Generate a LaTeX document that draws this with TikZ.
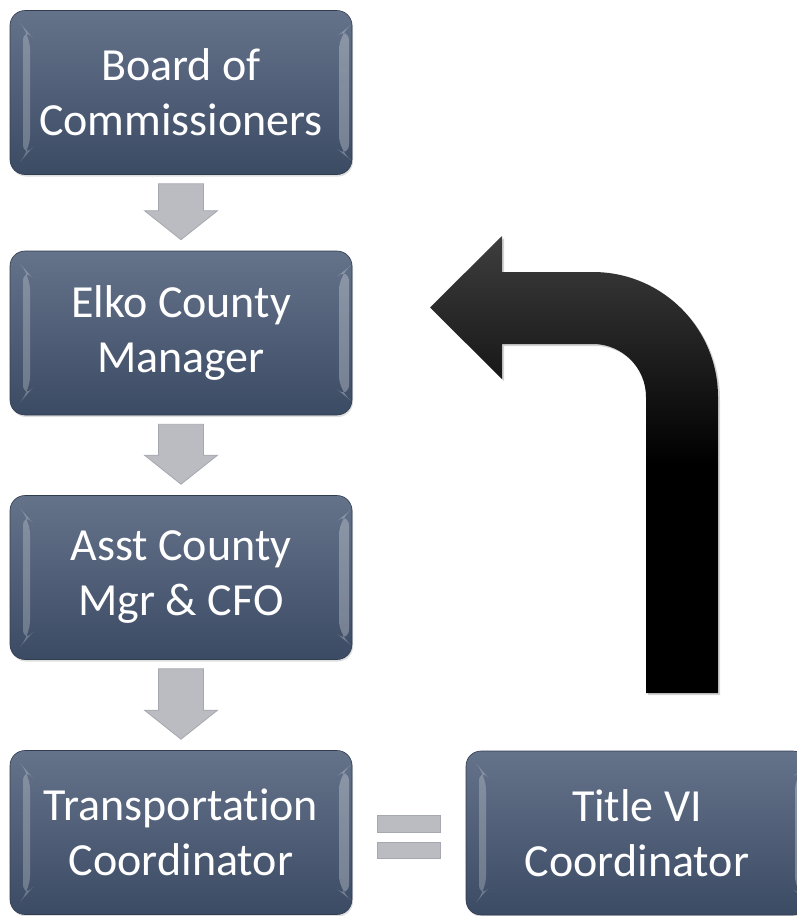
\documentclass[tikz,border=0pt]{standalone}
\usepackage{fontspec}
\setmainfont{Carlito}[Ligatures=NoCommon]
\usetikzlibrary{calc,shadows}
\definecolor{boxtop}{RGB}{100,114,138}
\definecolor{boxbot}{RGB}{60,75,100}
\definecolor{arrgray}{RGB}{186,188,194}
\definecolor{arredge}{RGB}{165,168,175}
\definecolor{bigtop}{RGB}{62,62,62}
\tikzset{
  orgbox/.style={rectangle, rounded corners=15pt, minimum width=342pt, minimum height=164pt,
    inner sep=0pt, align=center, text=white, font=\fontsize{46}{55}\selectfont,
    top color=boxtop, bottom color=boxbot, draw=boxbot!80!black, line width=0.6pt,
    drop shadow={opacity=0.25, shadow xshift=1pt, shadow yshift=-2pt},
    path picture={
      \fill[white,opacity=0.24]
        ([xshift=13pt,yshift=-16pt]path picture bounding box.north west) --
        ([xshift=20pt,yshift=-24pt]path picture bounding box.north west) --
        ([xshift=20pt,yshift=24pt]path picture bounding box.south west) --
        ([xshift=13pt,yshift=16pt]path picture bounding box.south west) -- cycle;
      \fill[white,opacity=0.28]
        ([xshift=-3pt,yshift=-16pt]path picture bounding box.north east) --
        ([xshift=-13pt,yshift=-24pt]path picture bounding box.north east) --
        ([xshift=-13pt,yshift=24pt]path picture bounding box.south east) --
        ([xshift=-3pt,yshift=16pt]path picture bounding box.south east) -- cycle;
    }},
  blockarrow/.style={fill=arrgray, draw=arredge, line width=0.8pt, line join=miter},
  eqbar/.style={fill=arrgray, draw=arredge, line width=0.8pt},
  bigarrow/.style={top color=bigtop, bottom color=black, middle color=black,
    drop shadow={opacity=0.35, shadow xshift=2pt, shadow yshift=-2pt}}
}
\newcommand{\orgdownarrow}[2]{%
  \path[blockarrow] let \p1=(#1.south), \p2=(#2.north) in
    (\x1-22.5pt,\y1-9pt) -- (\x1+22.5pt,\y1-9pt) -- (\x1+22.5pt,\y2+40pt) --
    (\x1+36.5pt,\y2+40pt) -- (\x1,\y2+11pt) -- (\x1-36.5pt,\y2+40pt) --
    (\x1-22.5pt,\y2+40pt) -- cycle;}
\begin{document}
\begin{tikzpicture}[x=1pt,y=-1pt]
\useasboundingbox (0,0) rectangle (797,916);
\clip (0,0) rectangle (797,916);
\node[orgbox] (board) at (181,92.5) {Board of\\Commissioners};
\node[orgbox] (mgr) at (181,333) {Elko County\\Manager};
\node[orgbox] (asst) at (181,577.5) {Asst County\\Mgr \& CFO};
\node[orgbox] (trans) at (181,832.5) {Transportation\\Coordinator};
\node[orgbox] (title) at (637,833) {Title VI\hspace{0.5em}\\Coordinator};
\orgdownarrow{board}{mgr}
\orgdownarrow{mgr}{asst}
\orgdownarrow{asst}{trans}
% equals sign between trans and title
\coordinate (eq) at ($(trans.east)!0.5!(title.west)+(0,4)$);
\path[eqbar] ($(eq)+(-31.5,-21.5)$) rectangle ($(eq)+(31.5,-4.5)$);
\path[eqbar] ($(eq)+(-31.5,5.5)$) rectangle ($(eq)+(31.5,21.5)$);
% big bent arrow
\path[bigarrow] (646,693) -- (646,397)
  arc[start angle=0, end angle=90, radius=53pt] -- (502,344) -- (502,379)
  -- (430,307.5) -- (502,236) -- (502,272) -- (593,272)
  arc[start angle=90, end angle=0, radius=125pt] -- (718,693) -- cycle;
\end{tikzpicture}
\end{document}
